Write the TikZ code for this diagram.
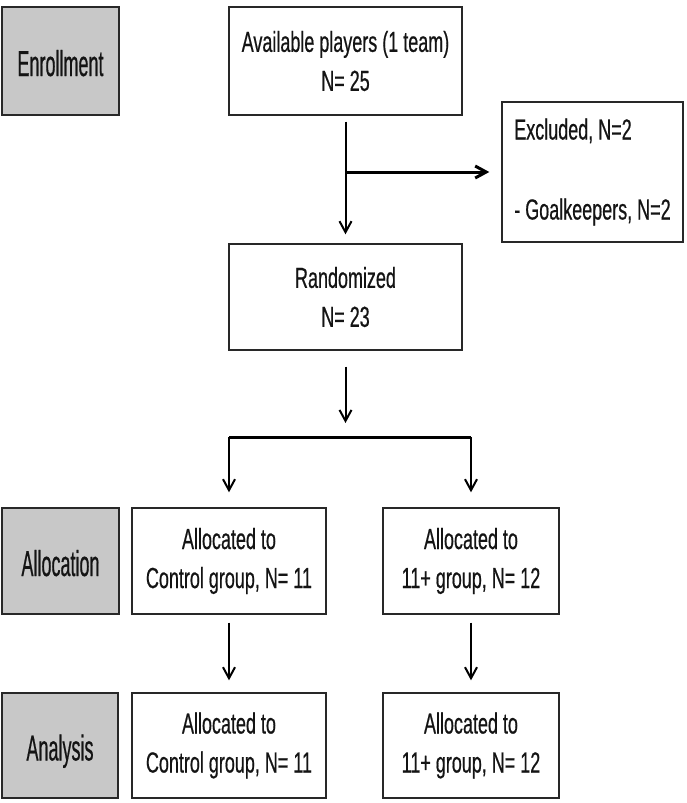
\documentclass[tikz,border=0pt]{standalone}
\usepackage{fontspec}
\setmainfont[FakeStretch=0.62,FakeBold=0.5]{Liberation Sans}
\newfontfamily\stagefont[FakeStretch=0.5,FakeBold=0.5]{Liberation Sans}
\usetikzlibrary{arrows.meta}
\definecolor{boxgray}{RGB}{200,200,200}
\definecolor{edge}{RGB}{40,40,40}
\definecolor{ink}{RGB}{20,20,20}
\begin{document}
\begin{tikzpicture}[x=1pt,y=-1pt,
  every node/.style={inner sep=0pt, text=ink},
  stage/.style={draw=edge, line width=1.4pt, fill=boxgray, rectangle,
    font=\stagefont\fontsize{36pt}{40pt}\selectfont, text height=30pt, text depth=0pt},
  wbox/.style={draw=edge, line width=1.4pt, fill=white, rectangle, align=center,
    font=\fontsize{29pt}{39pt}\selectfont, execute at begin node={\rule{0pt}{35pt}}},
  arr/.style={line width=2pt, -{Straight Barb[length=11pt,width=12pt]}},
  bar/.style={line width=3pt}]
\useasboundingbox (0,0) rectangle (686,803);
% stage labels
\node[stage, minimum width=117pt, minimum height=108pt] (enr) at (60.5,61) {Enrollment};
\node[stage, minimum width=117pt, minimum height=106pt] (alloc) at (60.5,561) {Allocation};
\node[stage, minimum width=116pt, minimum height=105pt] (anal) at (60,745.5) {Analysis};
% flow boxes
\node[wbox, minimum width=233pt, minimum height=108pt] (avail) at (345.5,61) {Available players (1 team)\\N= 25};
\node[wbox, minimum width=181pt, minimum height=140pt, align=left] (excl) at (592.5,172) {Excluded, N=2\\[41pt]- Goalkeepers, N=2};
\node[wbox, minimum width=233pt, minimum height=106pt] (rand) at (345.5,297) {Randomized\\N= 23};
\node[wbox, minimum width=194pt, minimum height=106pt] (ctrlA) at (229,561) {Allocated to\\Control group, N= 11};
\node[wbox, minimum width=176pt, minimum height=106pt] (plusA) at (471,561) {Allocated to\\11+ group, N= 12};
\node[wbox, minimum width=194pt, minimum height=105pt] (ctrlB) at (229,745.5) {Allocated to\\Control group, N= 11};
\node[wbox, minimum width=176pt, minimum height=105pt] (plusB) at (471,745.5) {Allocated to\\11+ group, N= 12};
% junctions
\coordinate (j1) at (345.5,172);
\coordinate (j2) at (345.5,437);
% connectors
\draw[arr, shorten <=6pt, shorten >=9pt] (avail.south) -- (rand.north);
\draw[arr, bar, shorten >=12pt] (j1) -- (j1 -| excl.west);
\draw[arr, shorten <=16pt, shorten >=14pt] (rand.south) -- (j2);
\draw[bar] (ctrlA.north |- j2) -- (plusA.north |- j2);
\draw[arr, shorten >=15pt] (ctrlA.north |- j2) -- (ctrlA.north);
\draw[arr, shorten >=15pt] (plusA.north |- j2) -- (plusA.north);
\draw[arr, shorten <=8pt, shorten >=12pt] (ctrlA.south) -- (ctrlB.north);
\draw[arr, shorten <=8pt, shorten >=12pt] (plusA.south) -- (plusB.north);
\end{tikzpicture}
\end{document}
